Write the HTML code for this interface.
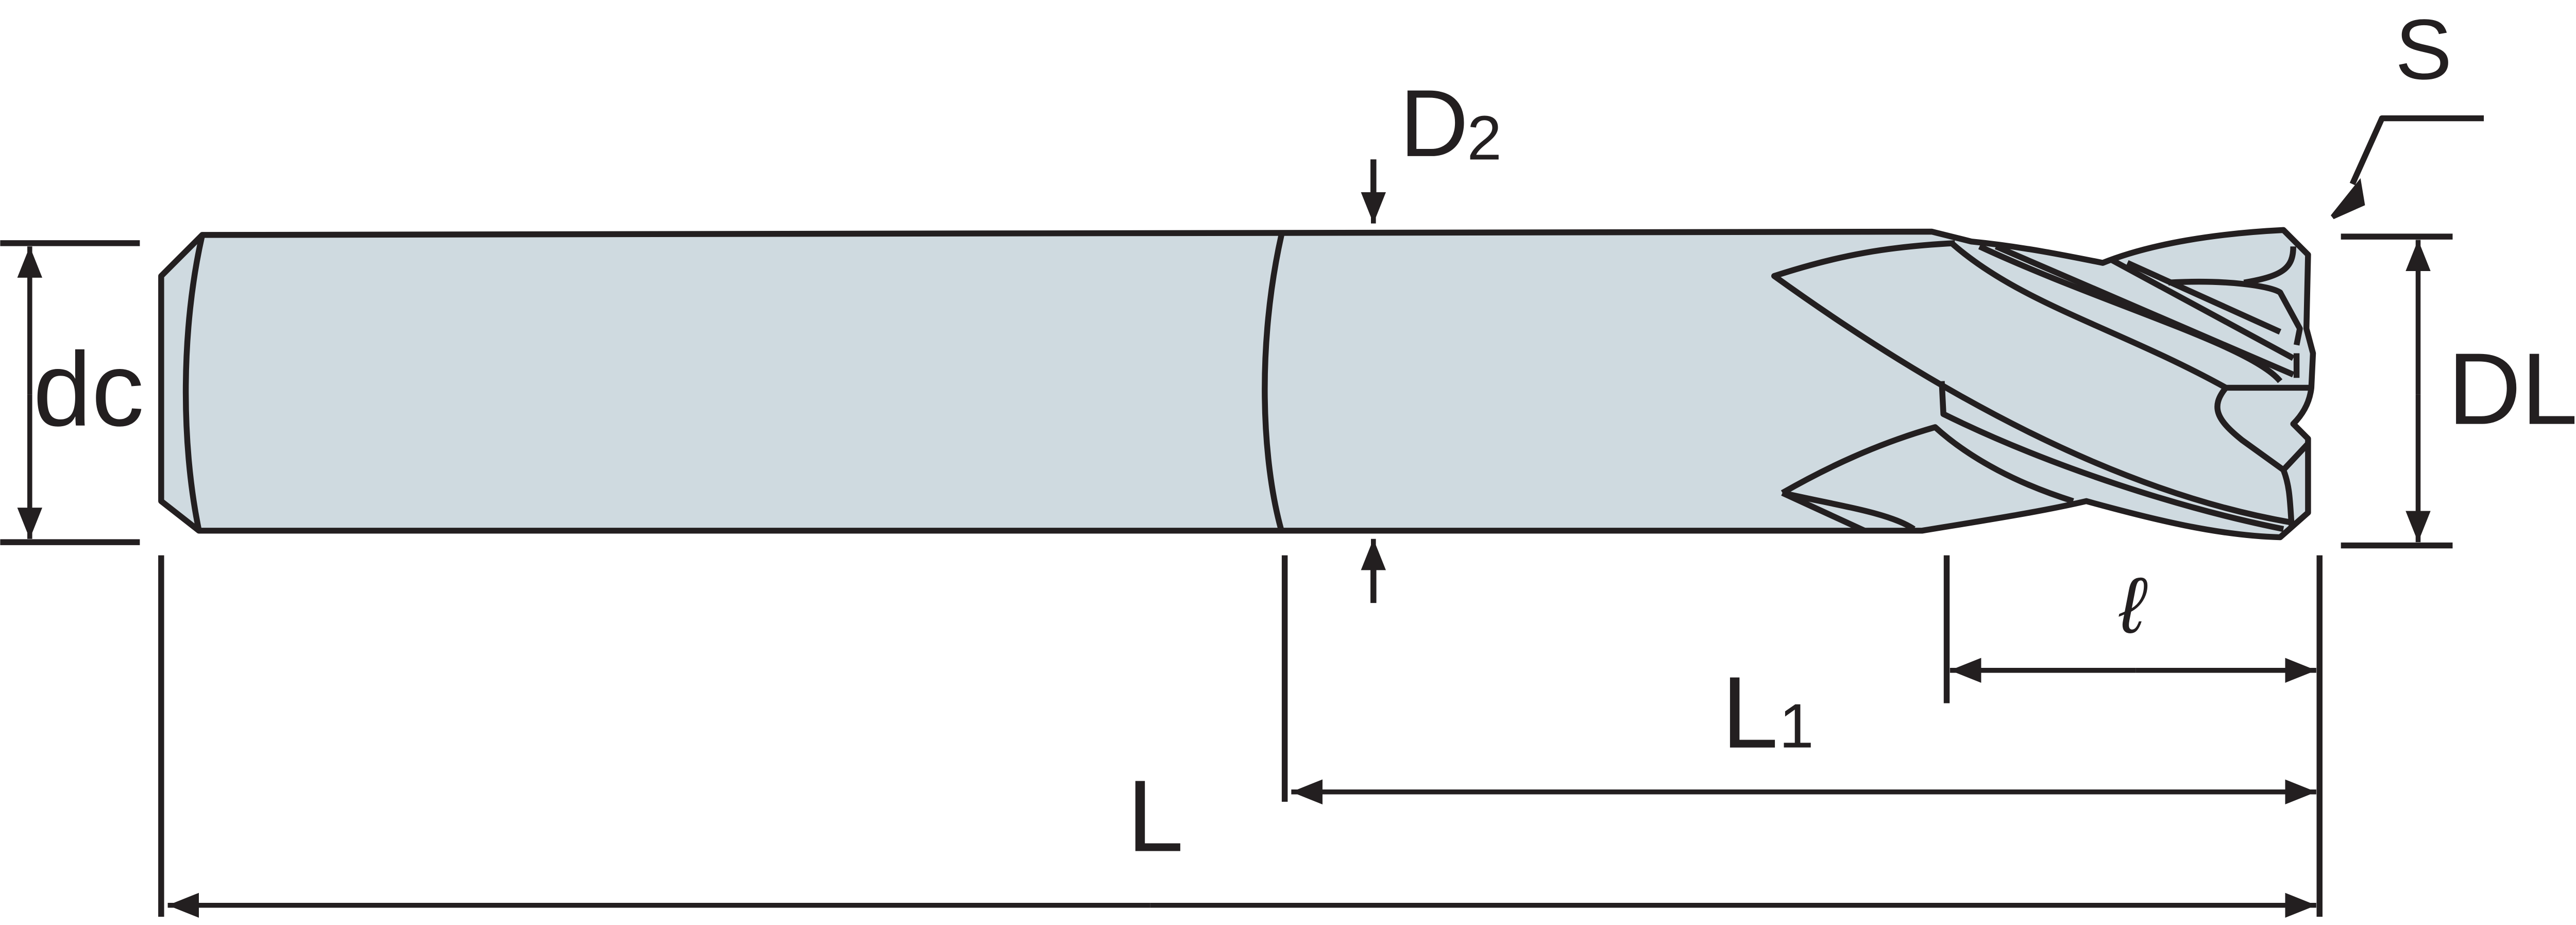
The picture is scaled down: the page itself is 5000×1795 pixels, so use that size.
<!DOCTYPE html>
<html><head><meta charset="utf-8"><style>
html,body{margin:0;padding:0;background:#fff;}
svg{display:block;}
text{font-family:"Liberation Sans",sans-serif;fill:#231f20;}
</style></head><body>
<svg width="5000" height="1795" viewBox="0 0 1568 563" xmlns="http://www.w3.org/2000/svg">
<defs>
<marker id="a" viewBox="0 0 20 16" refX="20" refY="8" markerWidth="19" markerHeight="17" markerUnits="userSpaceOnUse" orient="auto"><path d="M0,0 L20,8 L0,16 Z" fill="#231f20"/></marker>
</defs>
<g stroke="#231f20" stroke-width="3.6" fill="none" stroke-linejoin="round">
<path d="M123,143 L1176,141 L1200,147 C1230,150 1255,155 1280,160 C1310,148 1350,142 1390,140 L1405,155 L1404,200 L1408,215 L1407,236 C1406,245 1402,252 1396,258 L1405,267 L1405,312 L1388,327 C1350,326 1310,316 1270,305 C1240,312 1200,318 1170,323 L121,323 L98,305 L98,168 Z" fill="#cfdae0"/>
<path d="M123,143 C110,200 110,270 121,323"/>
<path d="M780,143 C765,210 768,280 780,323"/>
<path d="M1190,148 C1150,150 1120,155 1080,168 C1180,240 1290,300 1395,318"/>
<path d="M1188,148 C1230,185 1290,200 1355,236 L1407,236"/>
<path d="M1355,236 C1345,248 1350,256 1365,268 L1390,286 L1405,270"/>
<path d="M1390,286 C1394,296 1394,306 1395,320"/>
<path d="M1205,150 C1280,185 1370,210 1388,232"/>
<path d="M1215,150 L1396,228"/>
<path d="M1398,215 L1398,230"/>
<path d="M1285,158 L1396,218"/>
<path d="M1295,160 L1388,202"/>
<path d="M1320,172 C1355,170 1382,174 1388,178 L1400,200 L1398,210"/>
<path d="M1366,172 C1390,168 1396,163 1396,150"/>
<path d="M1182,232 L1183,252 C1250,285 1330,310 1390,322"/>
<path d="M1085,300 C1120,280 1150,268 1178,260 C1200,280 1230,295 1262,305"/>
<path d="M1085,300 L1135,323"/>
<path d="M1085,300 C1120,308 1150,312 1165,322"/>
<path d="M0,148 H85 M0,330 H85 M1425,144 H1493 M1425,332 H1493"/>
<path d="M98,338 V558 M782,338 V488 M1185,338 V428 M1412,338 V558"/>
<path d="M836,97 V118 M836,367 V346"/>
<path d="M1512,72 H1450 L1432,112"/>
</g>
<g stroke="#231f20" stroke-width="3" fill="none">
<path d="M18,240 V150" marker-end="url(#a)"/>
<path d="M18,240 V328" marker-end="url(#a)"/>
<path d="M1472,240 V146" marker-end="url(#a)"/>
<path d="M1472,240 V330" marker-end="url(#a)"/>
<path d="M836,110 V136" marker-end="url(#a)"/>
<path d="M836,352 V328" marker-end="url(#a)"/>
<path d="M1300,408 H1187" marker-end="url(#a)"/>
<path d="M1300,408 H1410" marker-end="url(#a)"/>
<path d="M1100,482 H786" marker-end="url(#a)"/>
<path d="M1100,482 H1410" marker-end="url(#a)"/>
<path d="M700,551 H102" marker-end="url(#a)"/>
<path d="M700,551 H1410" marker-end="url(#a)"/>
<path d="M1436,112 L1420,132 L1438,124 Z" fill="#231f20"/>
</g>
<text x="20" y="259" font-size="64">dc</text>
<text x="1490" y="258" font-size="62">DL</text>
<text x="852" y="95" font-size="58">D</text><text x="893" y="97" font-size="38">2</text>
<text x="1458" y="48" font-size="52">S</text>
<text x="1290" y="385" font-size="48" font-style="italic" font-family="DejaVu Serif, serif">ℓ</text>
<text x="1048" y="455" font-size="62">L</text><text x="1083" y="455" font-size="38">1</text>
<text x="686" y="518" font-size="62">L</text>
</svg>
</body></html>
